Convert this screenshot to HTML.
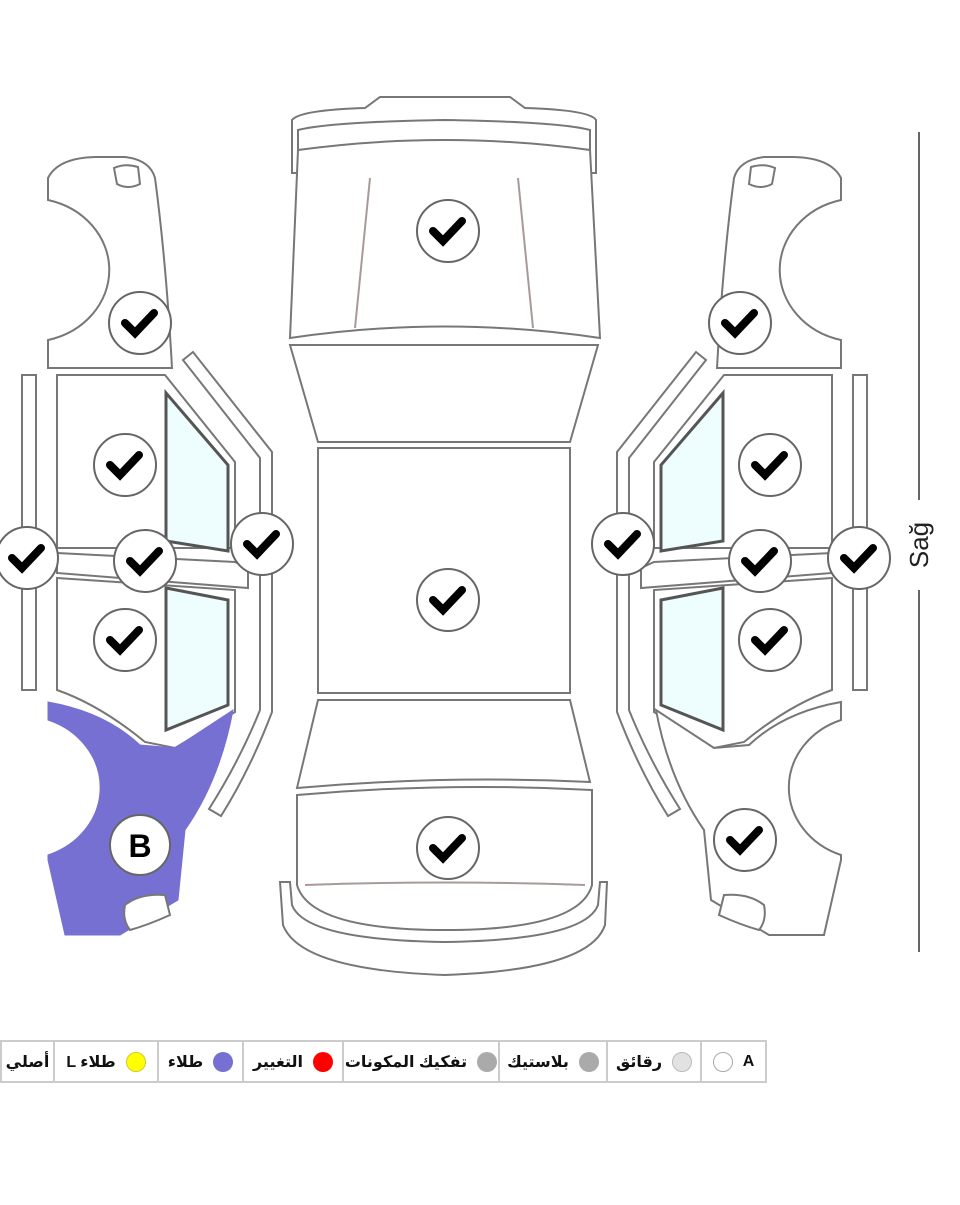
<!DOCTYPE html>
<html><head><meta charset="utf-8"><style>
body{margin:0;width:960px;height:1205px;background:#fff;overflow:hidden;font-family:"Liberation Sans","Noto Sans CJK SC",sans-serif}
svg{position:absolute;left:0;top:0}
.lg{position:absolute;top:1040px;height:43px;border:2px solid #ccc;border-right:none;box-sizing:border-box;display:flex;align-items:center;justify-content:center;gap:10px;font-weight:bold;font-size:16px;color:#111;font-family:"Liberation Sans","DejaVu Sans",sans-serif}
.dot{width:20px;height:20px;border-radius:50%;box-sizing:border-box}
</style></head><body>
<svg width="960" height="1205" viewBox="0 0 960 1205">
<defs>
<g id="ck"><circle r="31" fill="#fff" stroke="#666" stroke-width="2"/><path d="M-15,0 L-5,10 L14,-10" fill="none" stroke="#000" stroke-width="8" stroke-linecap="round" stroke-linejoin="miter"/></g>
<g id="side" fill="#fff" stroke="#777" stroke-width="2">
<path d="M48,368 L48,340 A80,72 0 0 0 48,200 L48,178 Q58,158 95,157 L125,157 Q150,160 155,178 Q166,260 172,368 Z"/>
<path d="M114,168 Q125,163 138,167 L140,184 Q128,190 117,184 Z"/>
<rect x="22" y="375" width="14" height="315"/>
<path d="M57,375 L165,375 L235,462 L235,548 L57,548 Z"/>
<path d="M57,553 L235,562 L248,568 L248,588 L57,573 Z"/>
<path d="M57,578 L235,590 L235,712 L175,748 L145,742 Q100,705 57,690 Z"/>
<path d="M183,360 L193,352 L272,452 L272,712 Q250,770 221,816 L209,809 Q240,760 260,710 L260,458 Z"/>
<path d="M166,393 L228,465 L228,551 L166,541 Z" fill="#eefeff" stroke="#555" stroke-width="3"/>
<path d="M166,588 L228,600 L228,705 L166,730 Z" fill="#eefeff" stroke="#555" stroke-width="3"/>
</g>
</defs>
<use href="#side"/>
<path d="M48,702 Q105,712 140,745 L175,748 L233,710 Q220,780 185,830 L178,900 L120,935 L65,935 L48,860 L48,855 A80,72 0 0 0 48,720 Z" fill="#7670d2" stroke="#7670d2"/>
<path d="M125,905 Q140,893 165,895 L170,915 Q148,925 130,930 Q122,920 125,905Z" fill="#fff" stroke="#777" stroke-width="2"/>
<g transform="translate(889,0) scale(-1,1)">
<use href="#side"/>
<path d="M48,702 Q105,712 140,745 L175,748 L233,710 Q220,780 185,830 L178,900 L120,935 L65,935 L48,860 L48,855 A80,72 0 0 0 48,720 Z" fill="#fff" stroke="#777" stroke-width="2"/>
<path d="M125,905 Q140,893 165,895 L170,915 Q148,925 130,930 Q122,920 125,905Z" fill="#fff" stroke="#777" stroke-width="2"/>
</g>
<g fill="#fff" stroke="#777" stroke-width="2">
<path d="M292,173 L292,120 Q300,110 365,108 L380,97 L510,97 L525,108 Q590,110 596,120 L596,173 L590,173 L590,130 Q560,122 445,120 Q330,122 298,130 L298,173 Z"/>
<path d="M298,150 Q445,130 590,150 L600,338 Q445,315 290,338 Z"/>
<path d="M370,178 L355,328 M518,178 L533,328" stroke="#a99"/>
<path d="M290,345 L598,345 L570,442 L318,442 Z"/>
<rect x="318" y="448" width="252" height="245"/>
<path d="M318,700 L570,700 L590,782 Q445,775 297,788 Z"/>
<path d="M297,795 Q445,782 592,790 L592,885 Q580,930 445,930 Q310,930 297,885 Z"/>
<path d="M305,885 Q445,880 585,885" stroke="#a99"/>
<path d="M280,882 L290,882 L292,905 Q305,940 445,942 Q585,940 598,905 L600,882 L607,882 L605,925 Q590,970 445,975 Q300,970 283,925 Z"/>
</g>
<use href="#ck" x="448" y="231"/><use href="#ck" x="448" y="600"/><use href="#ck" x="448" y="848"/>
<use href="#ck" x="140" y="323"/><use href="#ck" x="125" y="465"/><use href="#ck" x="125" y="640"/>
<use href="#ck" x="27" y="558"/><use href="#ck" x="145" y="561"/><use href="#ck" x="262" y="544"/>
<use href="#ck" x="740" y="323"/><use href="#ck" x="770" y="465"/><use href="#ck" x="770" y="640"/>
<use href="#ck" x="859" y="558"/><use href="#ck" x="760" y="561"/><use href="#ck" x="623" y="544"/>
<use href="#ck" x="745" y="840"/>
<circle cx="140" cy="845" r="30" fill="#fff" stroke="#666" stroke-width="2"/>
<text x="140" y="857" text-anchor="middle" font-family="Liberation Sans" font-weight="bold" font-size="32">B</text>
<line x1="919" y1="132" x2="919" y2="500" stroke="#666" stroke-width="2"/>
<line x1="919" y1="590" x2="919" y2="952" stroke="#666" stroke-width="2"/>
<text transform="translate(928,545) rotate(-90)" text-anchor="middle" font-family="Liberation Sans" font-size="26" fill="#222">Sağ</text>
</svg>
<div class="lg" style="left:0;width:53px">أصلي</div>
<div class="lg" style="left:53px;width:104px">L طلاء<div class="dot" style="background:#ffff00;border:1px solid #cc3"></div></div>
<div class="lg" style="left:157px;width:85px">طلاء<div class="dot" style="background:#7670d2"></div></div>
<div class="lg" style="left:242px;width:100px">التغيير<div class="dot" style="background:#ff0000"></div></div>
<div class="lg" style="left:342px;width:156px">تفكيك المكونات<div class="dot" style="background:#aaa"></div></div>
<div class="lg" style="left:498px;width:108px">بلاستيك<div class="dot" style="background:#aaa"></div></div>
<div class="lg" style="left:606px;width:94px">رقائق<div class="dot" style="background:#e2e2e2;border:1px solid #bbb"></div></div>
<div class="lg" style="left:700px;width:67px;border-right:2px solid #ccc"><div class="dot" style="border:1px solid #aaa"></div>A</div>
</body></html>
